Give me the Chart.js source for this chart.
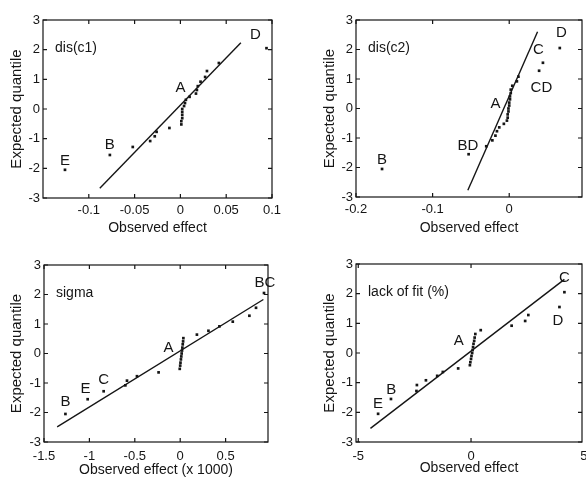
<!DOCTYPE html>
<html><head><meta charset="utf-8">
<script src="https://cdn.jsdelivr.net/npm/chart.js@4"></script>
<style>
html,body{margin:0;padding:0;background:#fff;}
#wrap{position:relative;width:586px;height:479px;overflow:hidden;background:#fff;}
.p{position:absolute;}
canvas{display:block;}
</style></head><body>
<div id="wrap">
<div class="p" style="left:0;top:0"><canvas id="c1" width="293" height="240"></canvas></div>
<div class="p" style="left:293px;top:0"><canvas id="c2" width="293" height="240"></canvas></div>
<div class="p" style="left:0;top:240px"><canvas id="c3" width="293" height="239"></canvas></div>
<div class="p" style="left:293px;top:240px"><canvas id="c4" width="293" height="239"></canvas></div>
</div>
<script>
// expected normal quantiles (y of every point, sorted)
const quantiles = [-2.05,-1.55,-1.28,-1.08,-0.92,-0.77,-0.64,-0.52,-0.41,-0.31,-0.2,-0.1,0,0.1,0.2,0.31,0.41,0.52,0.64,0.77,0.92,1.08,1.28,1.55,2.05];
const yTicks = [-3,-2,-1,0,1,2,3];

// panel 1: dis(c1)
const effects1 = [-0.126,-0.077,-0.052,-0.033,-0.028,-0.026,-0.012,0.001,0.001,0.002,0.002,0.002,0.002,0.004,0.005,0.006,0.010,0.017,0.018,0.019,0.022,0.027,0.029,0.042,0.094];
const fitX1 = [-0.088, 0.066];
const fitY1 = [-2.67, 2.23];
const letters1 = [['A',0,0.7],['B',-0.077,-1.2],['D',0.082,2.5],['E',-0.126,-1.74]];
const xTicks1 = [-0.1,-0.05,0,0.05,0.1];

// panel 2: dis(c2)
const effects2 = [-0.166,-0.053,-0.030,-0.022,-0.018,-0.016,-0.013,-0.007,-0.003,-0.002,-0.002,-0.001,-0.001,0,0,0.001,0.001,0.002,0.002,0.004,0.010,0.012,0.039,0.044,0.066];
const fitX2 = [-0.054, 0.037];
const fitY2 = [-2.77, 2.6];
const letters2 = [['B',-0.166,-1.73],['BD',-0.054,-1.27],['A',-0.018,0.15],['C',0.038,1.98],['CD',0.042,0.71],['D',0.068,2.55]];
const xTicks2 = [-0.2,-0.1,0];

// panel 3: sigma
const effects3 = [-1.264,-1.019,-0.843,-0.604,-0.586,-0.476,-0.238,-0.005,0,0.003,0.008,0.012,0.016,0.02,0.024,0.028,0.032,0.035,0.184,0.311,0.432,0.579,0.762,0.835,0.923];
const fitX3 = [-1.355, 0.916];
const fitY3 = [-2.49, 1.83];
const letters3 = [['B',-1.264,-1.64],['E',-1.044,-1.19],['C',-0.843,-0.91],['A',-0.128,0.2],['BC',0.934,2.4]];
const xTicks3 = [-1.5,-1,-0.5,0,0.5];

// panel 4: lack of fit (%)
const effects4 = [-4.12,-3.55,-2.42,-2.40,-2.0,-1.5,-1.25,-0.57,-0.05,-0.03,0,0.02,0.05,0.07,0.09,0.11,0.14,0.16,0.19,0.43,1.8,2.4,2.54,3.92,4.14];
const fitX4 = [-4.46, 4.14];
const fitY4 = [-2.54, 2.48];
const letters4 = [['E',-4.12,-1.72],['B',-3.54,-1.24],['A',-0.54,0.4],['C',4.14,2.54],['D',3.85,1.07]];
const xTicks4 = [-5,0,5];

const FONT = '"Liberation Sans", Arial, sans-serif';
const INK = '#151515';

function framePlugin(letters, name) {
  return {
    id: 'frame',
    afterDraw(chart) {
      const {ctx, chartArea: a, scales: {x, y}} = chart;
      ctx.save();
      ctx.strokeStyle = INK;
      ctx.lineWidth = 1.2;
      ctx.strokeRect(a.left, a.top, a.right - a.left, a.bottom - a.top);
      ctx.beginPath();
      x.ticks.forEach(t => {
        const px = x.getPixelForValue(t.value);
        if (px < a.left - 0.5 || px > a.right + 0.5) return;
        ctx.moveTo(px, a.bottom); ctx.lineTo(px, a.bottom - 4);
        ctx.moveTo(px, a.top); ctx.lineTo(px, a.top + 4);
      });
      y.ticks.forEach(t => {
        const py = y.getPixelForValue(t.value);
        ctx.moveTo(a.left, py); ctx.lineTo(a.left + 4, py);
        ctx.moveTo(a.right, py); ctx.lineTo(a.right - 4, py);
      });
      ctx.stroke();
      ctx.fillStyle = INK;
      ctx.font = '15px ' + FONT;
      ctx.textAlign = 'center';
      ctx.textBaseline = 'middle';
      letters.forEach(([t, vx, vy]) => {
        ctx.fillText(t, x.getPixelForValue(vx), y.getPixelForValue(vy));
      });
      ctx.font = '14px ' + FONT;
      ctx.textAlign = 'left';
      ctx.fillText(name, a.left + 12, a.top + 28);
      ctx.restore();
    }
  };
}

function makeChart(id, p) {
  const pts = p.effects.map((v, i) => ({x: v, y: quantiles[i]}));
  const fit = p.fitX.map((v, i) => ({x: v, y: p.fitY[i]}));
  new Chart(document.getElementById(id), {
    type: 'scatter',
    data: {datasets: [
      {data: fit, showLine: true, pointRadius: 0, borderColor: INK, borderWidth: 1.4, fill: false},
      {data: pts, pointStyle: 'rect', pointRadius: 1.9, backgroundColor: INK, borderWidth: 0}
    ]},
    options: {
      responsive: false, animation: false, devicePixelRatio: 1,
      layout: {padding: p.pad},
      plugins: {legend: {display: false}, tooltip: {enabled: false}},
      scales: {
        x: {
          type: 'linear', min: p.xmin, max: p.xmax,
          afterBuildTicks: s => { s.ticks = p.xTicks.map(v => ({value: v})); },
          afterFit: s => { s.height = p.xH; s.paddingLeft = 0; s.paddingRight = 0; },
          grid: {display: false, drawTicks: false}, border: {display: false},
          ticks: {font: {size: 13, family: FONT}, color: INK, padding: p.xtp, maxRotation: 0, autoSkip: false, callback: v => String(v)},
          title: {display: true, text: p.xTitle, font: {size: 14, family: FONT}, color: INK, padding: {top: 0, bottom: p.xttp}}
        },
        y: {
          type: 'linear', min: -3, max: 3,
          afterBuildTicks: s => { s.ticks = yTicks.map(v => ({value: v})); },
          afterFit: s => { s.width = p.yW; s.paddingTop = 0; s.paddingBottom = 0; },
          grid: {display: false, drawTicks: false}, border: {display: false},
          ticks: {font: {size: 13, family: FONT}, color: INK, padding: 3, callback: v => String(v)},
          title: {display: true, text: 'Expected quantile', font: {size: 15, family: FONT}, color: INK, padding: {top: 8, bottom: 0}}
        }
      }
    },
    plugins: [framePlugin(p.letters, p.name)]
  });
}

makeChart('c1', {effects: effects1, fitX: fitX1, fitY: fitY1, letters: letters1, xTicks: xTicks1, name: 'dis(c1)',
  xmin: -0.15, xmax: 0.1, pad: {left: 0, right: 21, top: 20, bottom: 0}, yW: 43, xH: 42, xtp: 5, xttp: 3, xTitle: 'Observed effect'});
makeChart('c2', {effects: effects2, fitX: fitX2, fitY: fitY2, letters: letters2, xTicks: xTicks2, name: 'dis(c2)',
  xmin: -0.2, xmax: 0.095, pad: {left: 20, right: 3, top: 20, bottom: 0}, yW: 43, xH: 43, xtp: 5, xttp: 3, xTitle: 'Observed effect'});
makeChart('c3', {effects: effects3, fitX: fitX3, fitY: fitY3, letters: letters3, xTicks: xTicks3, name: 'sigma',
  xmin: -1.5, xmax: 0.967, pad: {left: 0, right: 25, top: 25, bottom: 0}, yW: 44, xH: 37, xtp: 7, xttp: 0, xTitle: 'Observed effect (x 1000)'});
makeChart('c4', {effects: effects4, fitX: fitX4, fitY: fitY4, letters: letters4, xTicks: xTicks4, name: 'lack of fit (%)',
  xmin: -5.1, xmax: 4.92, pad: {left: 20, right: 2, top: 24, bottom: 0}, yW: 43, xH: 37, xtp: 7, xttp: 2, xTitle: 'Observed effect'});
</script>
</body></html>
